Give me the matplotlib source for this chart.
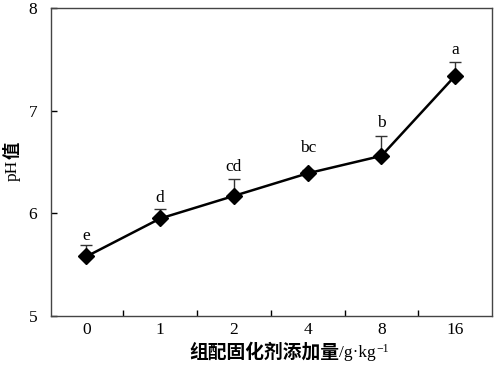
import matplotlib
matplotlib.use("Agg")
import matplotlib.pyplot as plt
import numpy as np

categories = ["0", "1", "2", "4", "8", "16"]
ph_values = [5.58, 5.95, 6.17, 6.39, 6.56, 7.34]
ph_errors = [0.11, 0.09, 0.16, 0.03, 0.19, 0.13]
letters = ["e", "d", "cd", "bc", "b", "a"]
letter_y = [5.74, 6.11, 6.41, 6.60, 6.84, 7.55]

SERIF = ['Liberation Serif', 'DejaVu Serif']
CJK = ['Noto Sans CJK SC', 'DejaVu Sans']

fig = plt.figure(figsize=(4.96, 3.67), dpi=100)
ax = fig.add_axes([0.103, 0.139, 0.889, 0.839])

x = np.arange(len(categories))
ax.errorbar(x, ph_values, yerr=[np.zeros(len(ph_errors)), ph_errors],
            fmt='none', ecolor='#333333', elinewidth=1.0, capsize=4.5, capthick=1.0, zorder=2)
ax.plot(x, ph_values, color='black', linewidth=1.8, marker='D', markersize=8.5,
        markerfacecolor='black', markeredgecolor='black', zorder=3)

for xi, ly, lab in zip(x, letter_y, letters):
    ax.text(xi, ly, lab, ha='center', va='baseline', fontsize=12.5, family=SERIF)

ax.set_xlim(-0.48, 5.5)
ax.set_ylim(5, 8)
ax.set_yticks([5, 6, 7, 8])
ax.set_xticks(x)
ax.set_xticklabels(categories, family=SERIF)
ax.set_yticklabels(["5", "6", "7", "8"], family=SERIF)
ax.set_xticks(x[:-1] + 0.5, minor=True)
ax.tick_params(axis='x', which='major', length=0, labelsize=12.5, pad=4)
ax.tick_params(axis='x', which='minor', direction='in', length=4, width=1.0)
ax.tick_params(axis='y', which='major', direction='in', length=4, width=1.0, labelsize=12.5, pad=10)

for s in ax.spines.values():
    s.set_color('#444444')
    s.set_linewidth(1.0)

W, H = 496, 367
# x-axis label: Chinese part (bold) + unit part (serif) + superscript
t1 = fig.text(339 / W, 1 - 352 / H, "组配固化剂添加量", ha='right', va='center',
              fontsize=13.5, family=CJK, fontweight='bold')
t2 = fig.text(339 / W, 1 - 353 / H, "/g·kg", ha='left', va='center',
              fontsize=12.5, family=SERIF)
fig.canvas.draw()
bb = t2.get_window_extent()
fig.text((bb.x1 + 0.5) / W, (bb.y1 - 3.5) / H, "−1", ha='left', va='center',
         fontsize=8.5, family=SERIF)

# y-axis label: "pH" (serif) + "值" (bold CJK)
y1 = fig.text(13 / W, 1 - 170 / H, "pH", rotation=90, ha='center', va='center',
              fontsize=12.5, family=SERIF)
fig.canvas.draw()
yb = y1.get_window_extent()
fig.text(13 / W, (yb.y1 + 0.5) / H, "值", rotation=90, ha='center', va='bottom',
         fontsize=12.5, family=CJK, fontweight='bold')

fig.savefig("out.png", dpi=100)
